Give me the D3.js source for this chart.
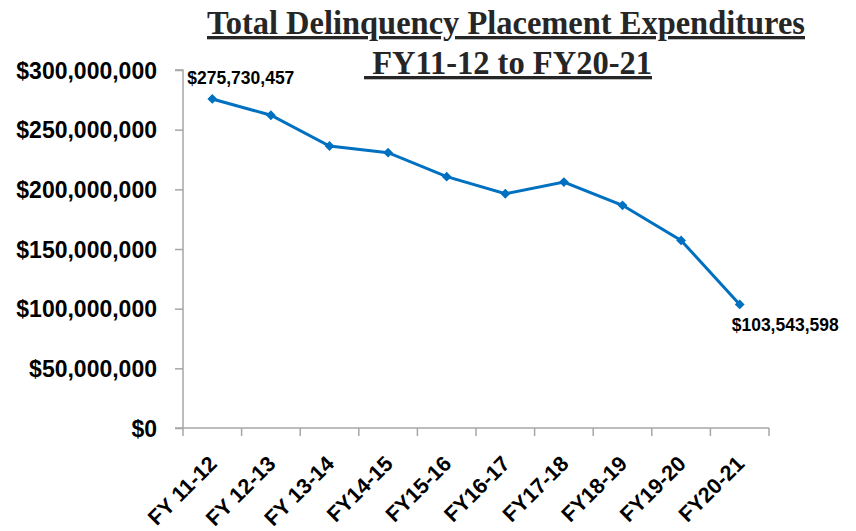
<!DOCTYPE html>
<html><head><meta charset="utf-8">
<script src="https://cdn.jsdelivr.net/npm/d3@7"></script>
<style>body{margin:0;background:#fff}svg{display:block}</style>
</head><body><svg id="c" width="856" height="531"></svg>
<script>
const categories = ["FY 11-12","FY 12-13","FY 13-14","FY14-15","FY15-16","FY16-17","FY17-18","FY18-19","FY19-20","FY20-21"];
const values = [275730457, 262100000, 236300000, 230700000, 210600000, 196300000, 206100000, 186600000, 157200000, 103543598];
const yTicks = [0, 50000000, 100000000, 150000000, 200000000, 250000000, 300000000];
const titleLines = ["Total Delinquency Placement Expenditures", " FY11-12 to FY20-21"];
const labelled = [0, 9];

(function(){
const svg = d3.select("#c");
const mL = 183, mR = 769, mT = 70, mB = 428;
const x = d3.scaleBand().domain(categories).range([mL, mR]);
const y = d3.scaleLinear().domain([0, 300000000]).range([mB, mT]);
const axisColor = "#a6a6a6";
const fmt = d3.format("$,");

// title
svg.selectAll("text.title").data(titleLines).join("text")
  .attr("class","title")
  .attr("x", (d,i)=> i===0 ? 506 : 508)
  .attr("y", (d,i)=> i===0 ? 34 : 74)
  .attr("text-anchor","middle")
  .attr("font-family","Liberation Serif, serif")
  .attr("font-weight","bold")
  .attr("font-size", 33)
  .attr("textLength", (d,i)=> i===0 ? 598 : 288)
  .attr("lengthAdjust","spacingAndGlyphs")
  .attr("fill","#262626")
  .attr("text-decoration","underline")
  .style("white-space","pre")
  .text(d=>d);

// y axis
const yAxis = d3.axisLeft(y).tickValues(yTicks).tickSize(8).tickFormat(d3.format("$,"));
const gy = svg.append("g").attr("transform",`translate(${mL},0)`).call(yAxis);
gy.select(".domain").attr("stroke",axisColor).attr("stroke-width",1.5).attr("d",`M-8,${mT}H0V${mB}`);
gy.selectAll(".tick line").attr("stroke",axisColor).attr("stroke-width",1.5);
gy.selectAll(".tick text").attr("x",-26).attr("dy","0.36em")
  .attr("font-family","Liberation Sans, Arial, sans-serif").attr("font-weight","bold")
  .attr("font-size",23).attr("fill","#000");

// x axis
const xTickPos = d3.range(categories.length+1).map(i=> mL + i*x.step());
const gx = svg.append("g");
gx.append("line").attr("x1",mL-8).attr("x2",mR).attr("y1",mB).attr("y2",mB)
  .attr("stroke",axisColor).attr("stroke-width",1.5);
gx.selectAll("line.t").data(xTickPos).join("line").attr("class","t")
  .attr("x1",d=>d).attr("x2",d=>d).attr("y1",mB).attr("y2",mB+8)
  .attr("stroke",axisColor).attr("stroke-width",1.5);
gx.selectAll("text").data(categories).join("text")
  .attr("transform",d=>`translate(${x(d)+x.bandwidth()/2+6},${mB+37}) rotate(-45)`)
  .attr("text-anchor","end")
  .attr("font-family","Liberation Sans, Arial, sans-serif").attr("font-weight","bold")
  .attr("font-size",21.5).attr("fill","#000")
  .text(d=>d);

// line
const cx = d=> x(d)+x.bandwidth()/2;
const line = d3.line().x((d,i)=>cx(categories[i])).y(d=>y(d));
svg.append("path").datum(values).attr("d",line)
  .attr("fill","none").attr("stroke","#0070C0").attr("stroke-width",3);
svg.selectAll("path.m").data(values).join("path").attr("class","m")
  .attr("d", d3.symbol(d3.symbolSquare, 48))
  .attr("transform",(d,i)=>`translate(${cx(categories[i])},${y(d)}) rotate(45)`)
  .attr("fill","#0070C0");

// data labels
svg.selectAll("text.dl").data(labelled).join("text").attr("class","dl")
  .attr("x", i=> cx(categories[i]) + (i===0 ? -25 : -8))
  .attr("y", i=> y(values[i]) + (i===0 ? -15 : 27))
  .attr("font-family","Liberation Sans, Arial, sans-serif").attr("font-weight","bold")
  .attr("font-size",17.5).attr("fill","#000")
  .text(i=>fmt(values[i]));
})();
</script></body></html>
